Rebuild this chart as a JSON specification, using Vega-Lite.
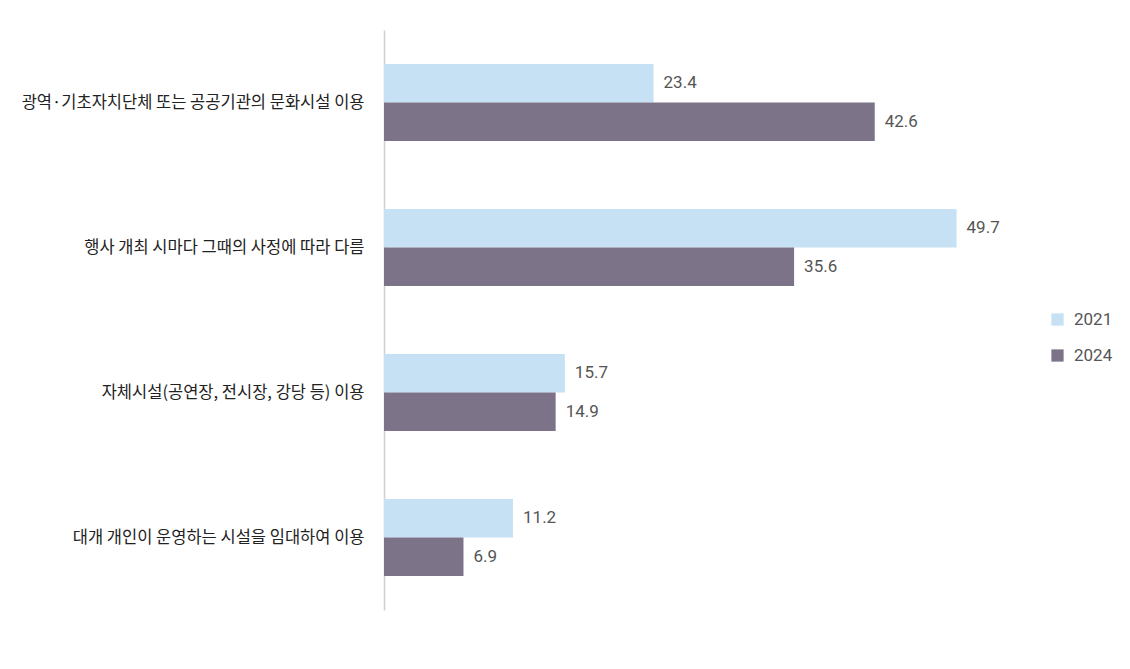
{
  "$schema": "https://vega.github.io/schema/vega-lite/v6.json",
  "width": 576,
  "height": 580,
  "autosize": {"type": "none"},
  "padding": {"left": 384, "top": 30, "right": 170, "bottom": 59},
  "background": "white",
  "config": {
    "view": {"stroke": null},
    "font": "Noto Sans CJK KR"
  },
  "data": {
    "values": [
      {"cat": "광역·기초자치단체 또는 공공기관의 문화시설 이용", "ord": 1, "year": "2021", "v": 23.4},
      {"cat": "광역·기초자치단체 또는 공공기관의 문화시설 이용", "ord": 1, "year": "2024", "v": 42.6},
      {"cat": "행사 개최 시마다 그때의 사정에 따라 다름", "ord": 2, "year": "2021", "v": 49.7},
      {"cat": "행사 개최 시마다 그때의 사정에 따라 다름", "ord": 2, "year": "2024", "v": 35.6},
      {"cat": "자체시설(공연장, 전시장, 강당 등) 이용", "ord": 3, "year": "2021", "v": 15.7},
      {"cat": "자체시설(공연장, 전시장, 강당 등) 이용", "ord": 3, "year": "2024", "v": 14.9},
      {"cat": "대개 개인이 운영하는 시설을 임대하여 이용", "ord": 4, "year": "2021", "v": 11.2},
      {"cat": "대개 개인이 운영하는 시설을 임대하여 이용", "ord": 4, "year": "2024", "v": 6.9}
    ]
  },
  "encoding": {
    "y": {
      "field": "cat",
      "type": "nominal",
      "sort": {"field": "ord", "op": "min"},
      "scale": {"paddingInner": 0.469, "paddingOuter": 0.2345},
      "axis": {
        "title": null,
        "ticks": false,
        "domainColor": "#d0d0d0",
        "domainWidth": 1.5,
        "labelFontSize": 16.5,
        "labelColor": "#222222",
        "labelPadding": 20,
        "labelLimit": 400
      }
    },
    "yOffset": {"field": "year", "type": "nominal", "scale": {"paddingInner": 0}},
    "x": {
      "field": "v",
      "type": "quantitative",
      "scale": {"domain": [0, 50], "nice": false},
      "axis": null
    }
  },
  "layer": [
    {
      "mark": {"type": "bar"},
      "encoding": {
        "color": {
          "field": "year",
          "type": "nominal",
          "scale": {"domain": ["2021", "2024"], "range": ["#c5e1f3", "#7d7389"]},
          "legend": {
            "title": null,
            "orient": "none",
            "legendX": 665,
            "legendY": 281,
            "symbolType": "square",
            "symbolSize": 150,
            "symbolStrokeWidth": 0,
            "labelFontSize": 17,
            "labelColor": "#555555",
            "labelFont": "Roboto",
            "rowPadding": 18,
            "labelOffset": 8
          }
        }
      }
    },
    {
      "mark": {"type": "text", "align": "left", "baseline": "middle", "dx": 10, "fontSize": 17, "color": "#555555", "font": "Roboto"},
      "encoding": {
        "text": {"field": "v", "type": "quantitative", "format": ".1f"}
      }
    }
  ]
}
